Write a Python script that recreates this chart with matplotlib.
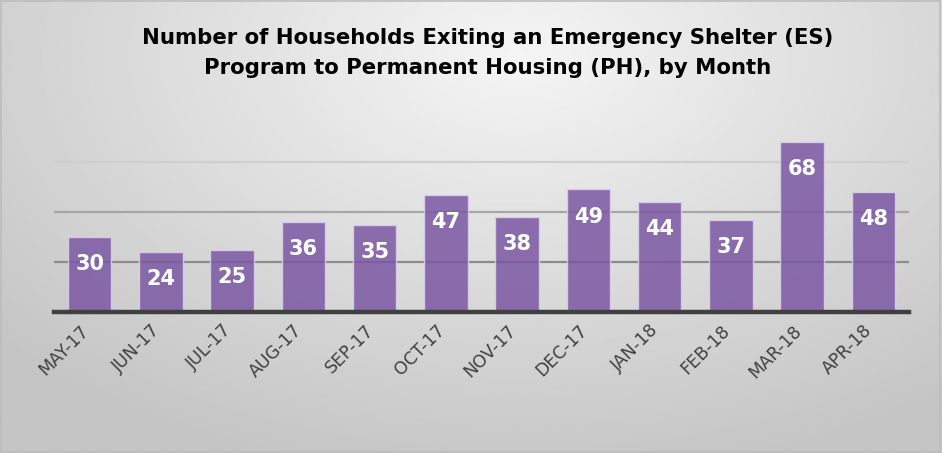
import numpy as np
import matplotlib
matplotlib.use("Agg")
import matplotlib.pyplot as plt
import matplotlib.transforms as mtransforms
from matplotlib.patches import Rectangle

# data
months = ["MAY-17", "JUN-17", "JUL-17", "AUG-17", "SEP-17", "OCT-17",
          "NOV-17", "DEC-17", "JAN-18", "FEB-18", "MAR-18", "APR-18"]
households = [30, 24, 25, 36, 35, 47, 38, 49, 44, 37, 68, 48]
grid_levels = [20, 40, 60]

title = ("Number of Households Exiting an Emergency Shelter (ES)\n"
         "Program to Permanent Housing (PH), by Month")

W, H = 942, 453
fig = plt.figure(figsize=(W / 100, H / 100), dpi=100)

# radial grey background
bg = fig.add_axes([0, 0, 1, 1], zorder=-10)
yy, xx = np.mgrid[0:1:300j, 0:1:600j]
r = np.sqrt(((xx - 0.55) / 0.75) ** 2 + ((yy - 0.12) / 0.95) ** 2)
shade = np.clip(0.96 - 0.19 * r, 0.77, 0.96)
bg.imshow(shade, cmap="gray", vmin=0, vmax=1, aspect="auto",
          extent=[0, 1, 1, 0], interpolation="bilinear")
bg.set_axis_off()
fig.patches.append(Rectangle((0.001, 0.002), 0.997, 0.995, transform=fig.transFigure,
                             fill=False, edgecolor="#bdbdbd", linewidth=1.2))

ax = fig.add_axes([54 / W, 1 - 312 / H, (909 - 54) / W, 200 / H])
ax.set_facecolor("none")
x = np.arange(len(months))
ax.set_xlim(-0.5, len(months) - 0.5)
ax.set_ylim(0, 80)

for lvl, col in zip(grid_levels, ["#8c8c8c", "#a6a6a6", "#cfcfcf"]):
    ax.axhline(lvl, color=col, linewidth=1.6, zorder=1)

bars = ax.bar(x, households, width=0.61, color="#7b58a3", alpha=0.85,
              edgecolor="#ddd2ea", linewidth=1.0, zorder=2)
for b, v in zip(bars, households):
    ax.annotate(str(v), (b.get_x() + b.get_width() / 2, v),
                xytext=(0, -19.5), textcoords="offset points",
                ha="center", va="center", color="white",
                fontsize=15, fontweight="bold", zorder=3)

ax.axhline(0, color="#404040", linewidth=3.2, zorder=4, clip_on=False)
for s in ax.spines.values():
    s.set_visible(False)
ax.set_yticks([])
ax.set_xticks(x)
ax.set_xticklabels(months, rotation=45, ha="right", rotation_mode="anchor",
                   color="#404040", fontsize=12.5)
ax.tick_params(axis="x", length=0, pad=9)
shift = mtransforms.ScaledTranslation(-10 / 100, 3 / 100, fig.dpi_scale_trans)
for lab in ax.get_xticklabels():
    lab.set_transform(lab.get_transform() + shift)

fig.text(488 / W, 1 - 53 / H, title, ha="center", va="center",
         fontsize=15.3, fontweight="bold", color="#000000", linespacing=1.65)

fig.savefig("out.png", dpi=100)
